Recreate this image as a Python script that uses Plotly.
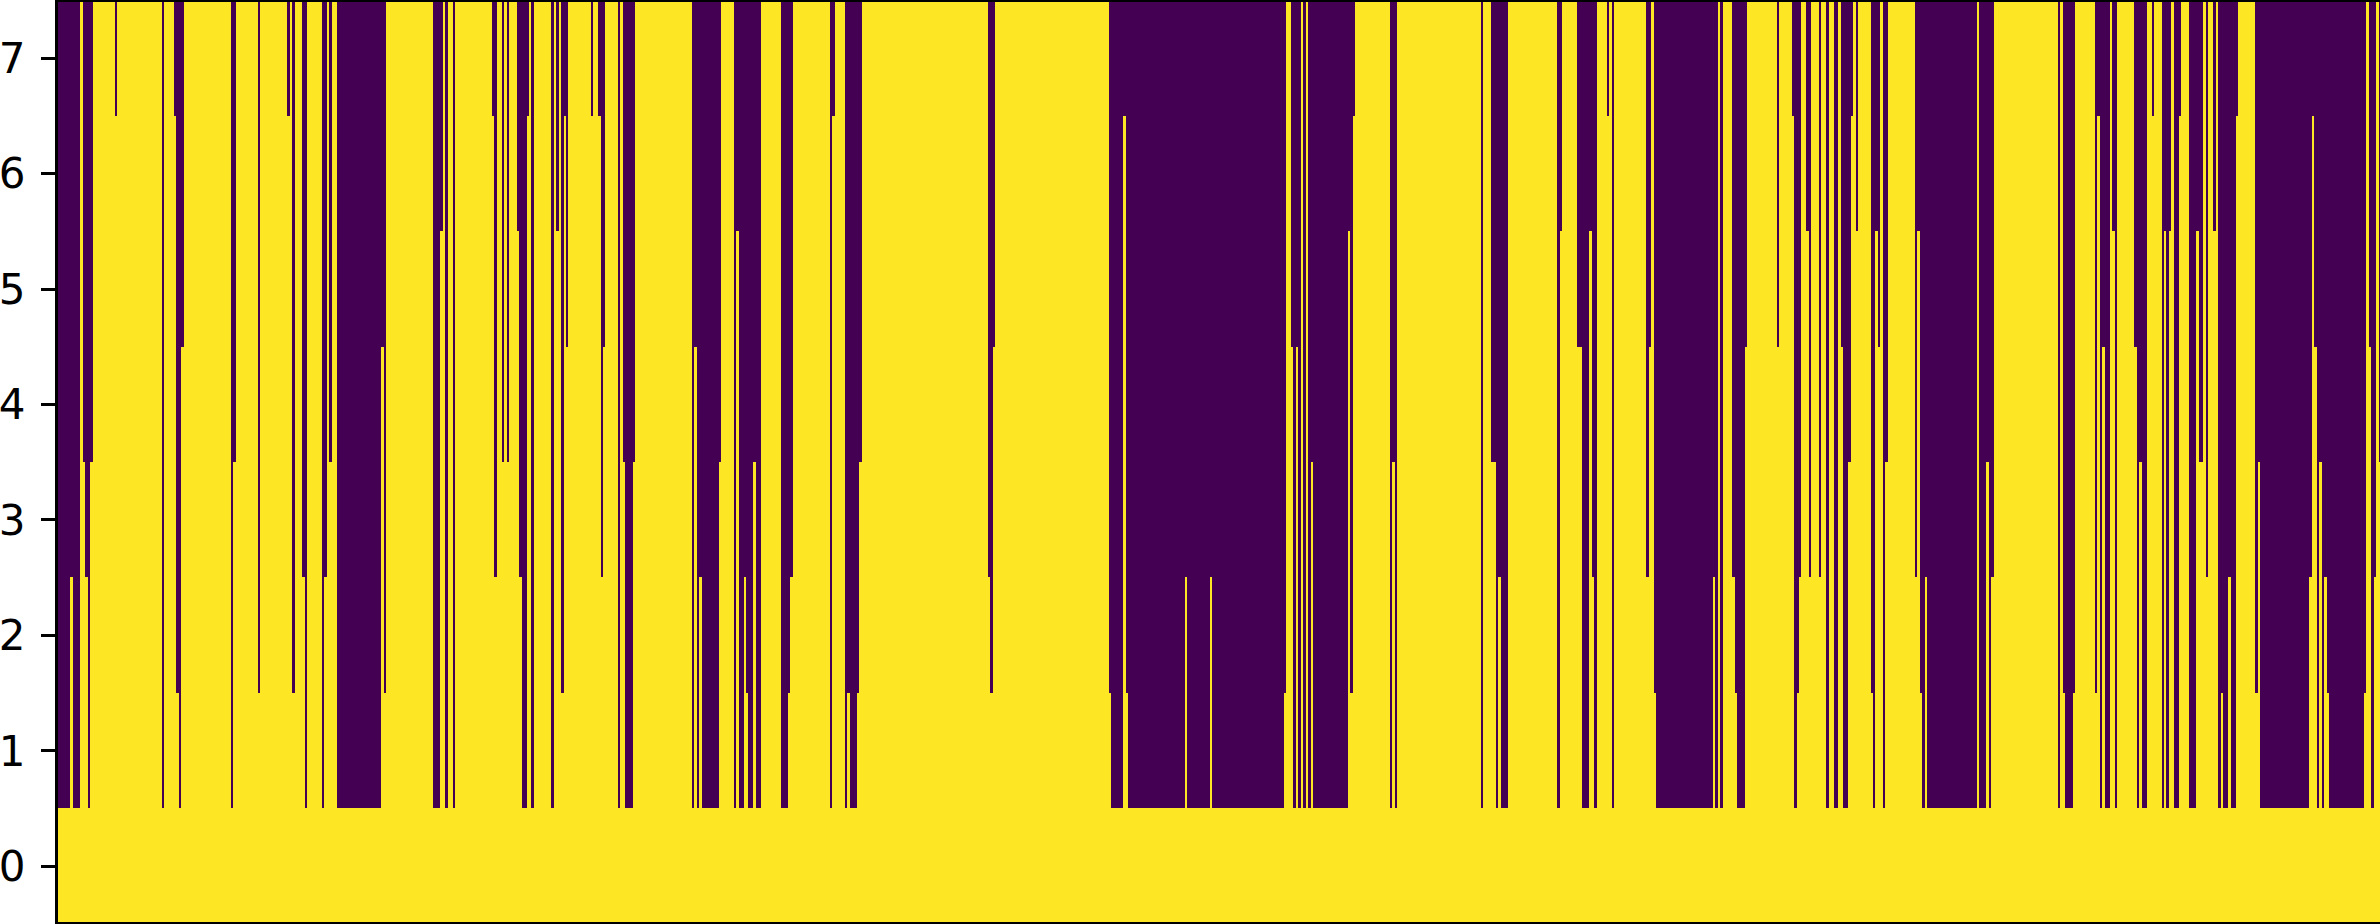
import plotly.graph_objects as go

row_labels = [0, 1, 2, 3, 4, 5, 6, 7]
COLUMN_COUNT = 942

# Run-length reading of the picture: each run starts at a column, and its columns
# are "on" (yellow) for that many rows counted from row 0, "off" (purple) above.
run_start = [
    0, 5, 6, 9, 10, 11, 12, 13, 14, 23, 24, 42, 43, 47, 48, 49, 50, 51, 70, 71, 72, 81, 82, 93, 94, 95, 96, 99,
    100, 101, 107, 108, 109, 110, 111, 113, 131, 132, 133,
    152, 155, 156, 157, 158, 160, 161, 176, 177, 178, 180, 181, 182, 183, 186, 187, 188, 190, 191, 192, 193,
    200, 201, 202, 203, 204, 205, 206, 207, 216, 217, 219, 220, 221, 222, 227, 228, 229, 230, 233, 234,
    257, 258, 259, 260, 261, 268, 269, 274, 275, 276, 278, 279, 280, 282, 283, 285, 293, 296, 297, 298,
    313, 314, 315, 319, 320, 321, 324, 325, 326, 377, 378, 379, 380, 426, 427, 432, 433, 434, 457, 458,
    467, 468, 497, 498, 500, 501, 502, 503, 504, 505, 506, 507, 508, 509, 523, 524, 525, 526, 540, 541, 542, 543,
    577, 578, 581, 583, 584, 585, 588, 608, 609, 610, 616, 618, 621, 622, 623, 624,
    628, 629, 630, 631, 644, 645, 646, 647, 648, 671, 672, 673, 674, 675, 679, 680, 681, 684, 685, 697, 698,
    703, 704, 705, 706, 707, 709, 710, 711, 714, 715, 717, 718, 720, 722, 723, 724, 726, 727, 728, 729, 730,
    735, 736, 737, 738, 739, 740, 741, 742, 753, 754, 755, 756, 757, 758, 778, 779, 782, 783, 784, 785,
    811, 812, 813, 814, 817, 818, 826, 827, 828, 829, 830, 832, 833, 834, 835, 842, 843, 844, 845, 847, 849, 850,
    853, 854, 855, 856, 857, 858, 860, 861, 864, 867, 868, 870, 871, 872, 874, 875, 876, 877, 878, 880, 881, 883, 884,
    891, 892, 893, 913, 914, 915, 916, 917, 918, 919, 920, 921, 935, 936, 937, 938, 939, 940, 941,
]
run_level = [
    1, 3, 1, 8, 4, 3, 1, 4, 8, 7, 8, 1, 8, 7, 2, 1, 5, 8, 1, 4, 8, 2, 8, 7, 8, 2, 8, 3,
    1, 8, 1, 3, 8, 4, 8, 1, 5, 2, 8,
    1, 6, 8, 1, 8, 1, 8, 7, 3, 8, 4, 8, 4, 8, 6, 3, 1, 7, 8, 1, 8,
    1, 8, 6, 8, 2, 7, 5, 8, 7, 8, 7, 3, 5, 8, 1, 8, 4, 1, 4, 8,
    1, 5, 1, 3, 1, 4, 8, 1, 6, 1, 3, 2, 1, 4, 1, 8, 1, 2, 3, 8,
    1, 7, 8, 1, 2, 1, 2, 4, 8, 3, 2, 5, 8, 2, 1, 7, 2, 1, 3, 1,
    3, 1, 2, 8, 5, 1, 5, 1, 8, 1, 8, 1, 4, 1, 6, 2, 7, 8, 1, 4, 1, 8,
    1, 8, 4, 1, 3, 1, 8, 1, 6, 8, 5, 1, 6, 3, 1, 8,
    7, 8, 1, 8, 3, 5, 8, 2, 1, 3, 1, 8, 1, 8, 3, 2, 1, 5, 8, 5, 8,
    7, 1, 2, 3, 8, 6, 3, 8, 3, 8, 1, 8, 1, 8, 5, 1, 4, 7, 8, 6, 8,
    2, 1, 6, 5, 8, 1, 4, 8, 3, 6, 2, 1, 3, 1, 8, 1, 4, 1, 3, 8,
    1, 8, 2, 1, 2, 8, 2, 7, 1, 5, 1, 8, 6, 1, 8, 5, 1, 4, 1, 8, 7, 8,
    1, 6, 1, 6, 8, 1, 7, 8, 1, 6, 4, 8, 3, 8, 6, 8, 1, 2, 1, 3, 1, 7, 8,
    2, 4, 1, 3, 7, 5, 1, 4, 1, 3, 2, 1, 2, 8, 5, 1, 3, 8, 4,
]

assert len(run_start) == len(run_level)

levels = []
for i, start in enumerate(run_start):
    end = run_start[i + 1] if i + 1 < len(run_start) else COLUMN_COUNT
    levels.extend([run_level[i]] * (end - start))

z = [[1 if row < lv else 0 for lv in levels] for row in row_labels]

fig = go.Figure(
    go.Heatmap(
        z=z,
        x=list(range(COLUMN_COUNT)),
        y=row_labels,
        colorscale=[[0, "#440154"], [1, "#fde725"]],
        zmin=0,
        zmax=1,
        showscale=False,
        hoverinfo="skip",
        zsmooth=False,
    )
)

fig.update_layout(
    width=2380,
    height=924,
    autosize=False,
    margin=dict(l=58, r=0, t=2, b=2, pad=0),
    paper_bgcolor="white",
    plot_bgcolor="white",
    font=dict(family="DejaVu Sans", size=42, color="black"),
)
fig.update_xaxes(
    range=[-0.5, 940.9],
    showticklabels=False,
    ticks="",
    showgrid=False,
    zeroline=False,
    showline=True,
    linecolor="black",
    linewidth=3,
    mirror=True,
    automargin=False,
)
fig.update_yaxes(
    range=[-0.483, 7.487],
    tickmode="array",
    tickvals=row_labels,
    ticktext=[str(v) for v in row_labels],
    ticks="outside",
    ticklen=14,
    tickwidth=3,
    tickcolor="black",
    showgrid=False,
    zeroline=False,
    showline=True,
    linecolor="black",
    linewidth=3,
    ticklabelstandoff=7,
    automargin=False,
)

fig.write_html(
    "out.html",
    config={"displayModeBar": False},
    post_script="document.body.style.margin='0';",
)
